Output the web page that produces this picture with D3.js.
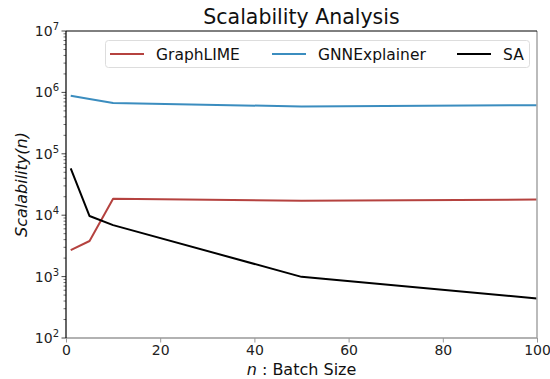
<!DOCTYPE html>
<html>
<head>
<meta charset="utf-8">
<script src="https://cdn.jsdelivr.net/npm/d3@7"></script>
<style>
  html, body { margin: 0; padding: 0; background: #fff; }
  svg { display: block; font-family: "DejaVu Sans", sans-serif; }
</style>
</head>
<body>
<svg id="chart" width="550" height="379"></svg>
<script>
// Batch sizes on the x axis
const batchSizes = [1, 5, 10, 50, 100];
// Scalability measured for each method
const graphLime = [2700, 3800, 18600, 17200, 18000];
const gnnExplainer = [880000, 780000, 670000, 590000, 620000];
const sa = [58000, 9700, 6900, 990, 440];

const seriesNames = ["GraphLIME", "GNNExplainer", "SA"];
const seriesColors = ["#b5423f", "#3b8dbf", "#000000"];
const xTicks = [0, 20, 40, 60, 80, 100];
const yExponents = [2, 3, 4, 5, 6, 7];

const series = [graphLime, gnnExplainer, sa].map((vals, i) => ({
  name: seriesNames[i],
  color: seriesColors[i],
  points: vals.map((v, j) => [batchSizes[j], v])
}));

const W = 550, H = 379;
const m = { left: 66, right: 13, top: 31, bottom: 41 };
const svg = d3.select("#chart");

const x = d3.scaleLinear().domain([0, 100]).range([m.left, W - m.right]);
const y = d3.scaleLog().domain([1e2, 1e7]).range([H - m.bottom, m.top]);

// Series lines
const line = d3.line().x(d => x(d[0])).y(d => y(d[1]));
svg.append("g").selectAll("path").data(series).join("path")
  .attr("d", d => line(d.points))
  .attr("fill", "none")
  .attr("stroke", d => d.color)
  .attr("stroke-width", 2)
  .attr("stroke-linejoin", "round");

// X axis
const xAxis = svg.append("g")
  .attr("transform", `translate(0,${H - m.bottom})`)
  .call(d3.axisBottom(x).tickValues(xTicks).tickSize(4.5).tickPadding(3).tickFormat(d3.format("d")));
xAxis.select(".domain").remove();
xAxis.selectAll(".tick line").attr("stroke", "#999");
xAxis.selectAll(".tick text").attr("font-size", 14).attr("fill", "#222")
  .attr("font-family", "DejaVu Sans");

// Y axis: major decade ticks and minor ticks
const yg = svg.append("g").attr("transform", `translate(${m.left},0)`);
const minor = [];
for (let e = 2; e < 7; e++) for (let k = 2; k <= 9; k++) minor.push(k * Math.pow(10, e));
yg.selectAll("line.minor").data(minor).join("line")
  .attr("class", "minor")
  .attr("x1", -2.5).attr("x2", 0)
  .attr("y1", d => y(d)).attr("y2", d => y(d))
  .attr("stroke", "#333").attr("stroke-width", 0.7);
yg.selectAll("line.major").data(yExponents).join("line")
  .attr("class", "major")
  .attr("x1", -4.5).attr("x2", 0)
  .attr("y1", d => y(Math.pow(10, d))).attr("y2", d => y(Math.pow(10, d)))
  .attr("stroke", "#333").attr("stroke-width", 0.9);
const yl = yg.selectAll("text.lab").data(yExponents).join("text")
  .attr("class", "lab")
  .attr("x", -7)
  .attr("y", d => y(Math.pow(10, d)) + 5)
  .attr("text-anchor", "end")
  .attr("font-size", 14)
  .attr("fill", "#222");
yl.append("tspan").text("10");
yl.append("tspan").attr("dy", -6).attr("font-size", 10).text(d => d);

// Frame: left and top dark, bottom and right lighter
svg.append("line").attr("x1", x(100)).attr("x2", x(100)).attr("y1", m.top).attr("y2", H - m.bottom)
  .attr("stroke", "#aaa").attr("stroke-width", 1.6);
svg.append("line").attr("x1", m.left).attr("x2", x(100)).attr("y1", H - m.bottom).attr("y2", H - m.bottom)
  .attr("stroke", "#999").attr("stroke-width", 1.6);
svg.append("line").attr("x1", m.left).attr("x2", x(100)).attr("y1", m.top).attr("y2", m.top)
  .attr("stroke", "#000").attr("stroke-width", 1);
svg.append("line").attr("x1", m.left).attr("x2", m.left).attr("y1", m.top).attr("y2", H - m.bottom)
  .attr("stroke", "#000").attr("stroke-width", 1.2);

// Title and axis labels
svg.append("text").attr("x", (m.left + x(100)) / 2).attr("y", 24)
  .attr("text-anchor", "middle").attr("font-size", 20.5).attr("fill", "#111")
  .text("Scalability Analysis");

const xl = svg.append("text").attr("x", (m.left + x(100)) / 2).attr("y", 375)
  .attr("text-anchor", "middle").attr("font-size", 16).attr("fill", "#111");
xl.append("tspan").attr("font-style", "italic").text("n");
xl.append("tspan").text(" : Batch Size");

svg.append("text")
  .attr("transform", `translate(27,${(m.top + H - m.bottom) / 2}) rotate(-90)`)
  .attr("text-anchor", "middle").attr("font-size", 16).attr("fill", "#111")
  .attr("font-style", "italic")
  .text("Scalability(n)");

// Legend
const lg = svg.append("g");
lg.append("rect").attr("x", 105.5).attr("y", 40.5).attr("width", 424).attr("height", 27)
  .attr("rx", 3).attr("fill", "#fff").attr("fill-opacity", 0.8)
  .attr("stroke", "#ddd").attr("stroke-width", 1);
const legendX = [110, 272, 457];
const items = lg.selectAll("g.item").data(series).join("g")
  .attr("class", "item")
  .attr("transform", (d, i) => `translate(${legendX[i]},54)`);
items.append("line").attr("x1", 0).attr("x2", 34).attr("y1", 0).attr("y2", 0)
  .attr("stroke", d => d.color).attr("stroke-width", 2);
items.append("text").attr("x", 46).attr("y", 5.5).attr("font-size", 15.5).attr("fill", "#111")
  .text(d => d.name);
</script>
</body>
</html>
